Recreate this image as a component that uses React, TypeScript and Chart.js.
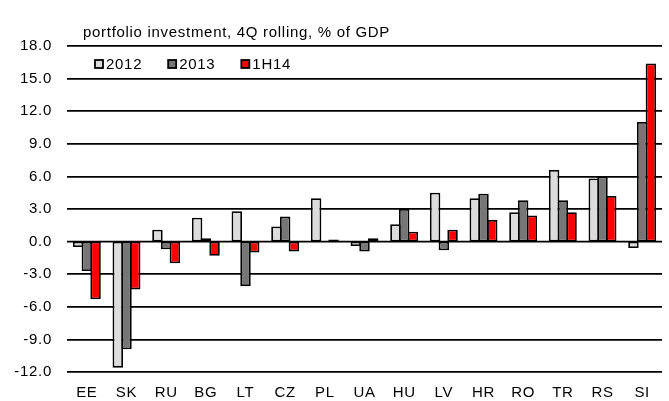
import React, { useEffect, useRef } from "react";
import { Chart, registerables } from "chart.js";

Chart.register(...registerables);

const categories = ["EE", "SK", "RU", "BG", "LT", "CZ", "PL", "UA", "HU", "LV", "HR", "RO", "TR", "RS", "SI"];
const values2012 = [-0.5, -11.6, 1.1, 2.2, 2.8, 1.4, 4.0, -0.4, 1.6, 4.5, 4.0, 2.7, 6.6, 5.8, -0.6];
const values2013 = [-2.7, -9.9, -0.7, 0.3, -4.1, 2.3, 0.0, -0.9, 3.0, -0.8, 4.4, 3.8, 3.8, 6.0, 11.0];
const values1H14 = [-5.3, -4.4, -2.0, -1.3, -1.0, -0.9, 0.2, 0.3, 0.9, 1.1, 2.0, 2.4, 2.7, 4.2, 16.4];
const seriesLabels = ["2012", "2013", "1H14"];
const seriesColors = ["#dcdcdc", "#767676", "#ff0000"];
const titleText = "portfolio investment, 4Q rolling, % of GDP";
const yMin = -12;
const yMax = 18;
const yStep = 3;

const FONT = "'Liberation Sans', Arial, sans-serif";
const FS = 15;
const SPACING = "0.7px";
const GRID_W = 1.8;

const spacingPlugin = {
  id: "spacing",
  beforeUpdate(chart: any) {
    chart.ctx.letterSpacing = SPACING;
  },
  beforeDraw(chart: any) {
    chart.ctx.letterSpacing = SPACING;
  },
};

const zeroLinePlugin = {
  id: "zeroLine",
  beforeDatasetsDraw(chart: any) {
    const { ctx, chartArea, scales } = chart;
    const y = scales.y.getPixelForValue(0);
    ctx.save();
    ctx.strokeStyle = "#000";
    ctx.lineWidth = GRID_W;
    ctx.beginPath();
    ctx.moveTo(chartArea.left, y);
    ctx.lineTo(chartArea.right, y);
    ctx.stroke();
    ctx.restore();
  },
};

const overlayPlugin = {
  id: "overlay",
  afterDatasetsDraw(chart: any) {
    const { ctx, chartArea } = chart;
    ctx.save();
    ctx.letterSpacing = SPACING;
    ctx.font = `${FS}px ${FONT}`;
    ctx.fillStyle = "#000";
    ctx.textBaseline = "alphabetic";
    ctx.textAlign = "left";
    ctx.fillText(titleText, chartArea.left + 16, chartArea.top - 9);

    let x = chartArea.left + 28;
    const cy = chartArea.top + 18;
    const box = 8;
    chart.data.datasets.forEach((ds: any) => {
      ctx.fillStyle = ds.backgroundColor;
      ctx.fillRect(x, cy - box / 2, box, box);
      ctx.lineWidth = 1.8;
      ctx.strokeStyle = "#000";
      ctx.strokeRect(x, cy - box / 2, box, box);
      ctx.fillStyle = "#000";
      ctx.textBaseline = "middle";
      ctx.fillText(ds.label, x + box + 3, cy + 1);
      const w = ctx.measureText(ds.label).width;
      x += box + 3 + w + 26;
    });
    ctx.restore();
  },
};

export default function App() {
  const ref = useRef<HTMLCanvasElement | null>(null);
  useEffect(() => {
    if (!ref.current) return;
    Chart.defaults.font.family = FONT;
    Chart.defaults.font.size = FS;
    Chart.defaults.color = "#000";
    const series = [values2012, values2013, values1H14];
    const chart = new Chart(ref.current, {
      type: "bar",
      data: {
        labels: categories,
        datasets: series.map((vals, i) => ({
          label: seriesLabels[i],
          data: vals,
          backgroundColor: seriesColors[i],
          borderColor: "#000",
          borderWidth: 1.8,
          borderSkipped: false,
          categoryPercentage: 0.66,
          barPercentage: 1.2,
        })),
      },
      options: {
        animation: false,
        responsive: true,
        maintainAspectRatio: false,
        layout: { padding: { top: 46, right: 7, bottom: 0, left: 0 } },
        plugins: {
          legend: { display: false },
          title: { display: false },
          tooltip: { enabled: false },
        },
        scales: {
          x: {
            grid: { display: false, drawTicks: false },
            border: { display: false },
            ticks: { padding: 12, font: { size: FS } },
            afterFit: (s: any) => {
              s.height = 29;
            },
          },
          y: {
            min: yMin,
            max: yMax,
            grid: {
              color: "#000",
              lineWidth: (c: any) => (c.tick && c.tick.value === 0 ? 0 : GRID_W),
              drawTicks: false,
            },
            border: { display: false },
            ticks: {
              stepSize: yStep,
              padding: 15,
              font: { size: FS },
              callback: (v: any) => Number(v).toFixed(1),
            },
            afterFit: (s: any) => {
              s.width = 67;
            },
          },
        },
      },
      plugins: [spacingPlugin, zeroLinePlugin, overlayPlugin],
    });
    return () => chart.destroy();
  }, []);
  return (
    <div style={{ position: "absolute", left: 0, top: 0, width: 669, height: 401, background: "#fff" }}>
      <canvas ref={ref} />
    </div>
  );
}
